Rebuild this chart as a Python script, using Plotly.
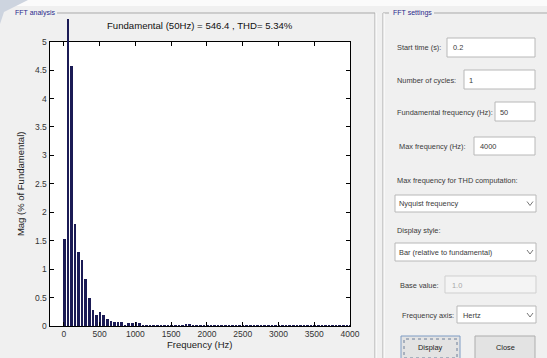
import plotly.graph_objects as go

# ---------------- data ----------------
freq_hz = [0, 50, 100, 150, 200, 250, 300, 350, 400, 450,
           500, 550, 600, 650, 700, 750, 800, 850, 900, 950,
           1000, 1050, 1100, 1150, 1200, 1250, 1300, 1350, 1400, 1450,
           1500, 1550, 1600, 1650, 1700, 1750, 1800, 1850, 1900, 1950,
           2000, 2050, 2100, 2150, 2200, 2250, 2300, 2350, 2400, 2450,
           2500, 2550, 2600, 2650, 2700, 2750, 2800, 2850, 2900, 2950,
           3000, 3050, 3100, 3150, 3200, 3250, 3300, 3350, 3400, 3450,
           3500, 3550, 3600, 3650, 3700, 3750, 3800, 3850, 3900, 3950,
           4000]
mag_pct = [1.53, 100.0, 4.57, 1.80, 1.30, 1.17, 0.83, 0.49, 0.28, 0.20,
           0.26, 0.20, 0.12, 0.09, 0.08, 0.07, 0.07, 0.03, 0.06, 0.06,
           0.08, 0.05, 0.03, 0.03, 0.03, 0.03, 0.03, 0.03, 0.03, 0.02,
           0.02, 0.02, 0.02, 0.02, 0.04, 0.04, 0.02, 0.02, 0.02, 0.02,
           0.02, 0.02, 0.02, 0.02, 0.02, 0.02, 0.02, 0.02, 0.02, 0.02,
           0.02, 0.02, 0.02, 0.02, 0.02, 0.02, 0.02, 0.02, 0.02, 0.02,
           0.02, 0.02, 0.02, 0.02, 0.02, 0.02, 0.02, 0.02, 0.02, 0.02,
           0.02, 0.02, 0.02, 0.02, 0.02, 0.02, 0.02, 0.02, 0.02, 0.02,
           0.02]
fundamental_hz = 50
x_ticks = [0, 500, 1000, 1500, 2000, 2500, 3000, 3500, 4000]
y_ticks = [0, 0.5, 1, 1.5, 2, 2.5, 3, 3.5, 4, 4.5, 5]
title_text = "Fundamental (50Hz) = 546.4 , THD= 5.34%"

# ---------------- layout helpers ----------------
W, H = 547, 358
def px(x):
    return x / W
def py(y):
    return 1 - y / H

FONT = "Liberation Sans, Arial, sans-serif"
BAR = "#1b1b55"
GUI_TXT = "#3a3a3a"
GUI_SIZE = 7.4

harm_x = [f for f in freq_hz if f != fundamental_hz]
harm_y = [m for f, m in zip(freq_hz, mag_pct) if f != fundamental_hz]
fund_x = [f for f in freq_hz if f == fundamental_hz]
fund_y = [m for f, m in zip(freq_hz, mag_pct) if f == fundamental_hz]

plot_l, plot_r, plot_t, plot_b = 49.5, 350, 41.7, 326
fund_top = 19
y2_top = 5 * (plot_b - fund_top) / (plot_b - plot_t)

fig = go.Figure()
fig.add_trace(go.Bar(x=harm_x, y=harm_y, width=36, marker=dict(color=BAR, line=dict(width=0)),
                     xaxis="x", yaxis="y", showlegend=False))
fig.add_trace(go.Bar(x=fund_x, y=fund_y, width=36, marker=dict(color=BAR, line=dict(width=0)),
                     xaxis="x", yaxis="y2", showlegend=False))

shapes = []
annotations = []

# white axes background (data coords of the main axes)
shapes.append(dict(type="rect", xref="x", yref="y", x0=-200, x1=4000, y0=0, y1=5,
                   fillcolor="#ffffff", line=dict(width=0), layer="below"))

# top white strip and corner wedge
shapes.append(dict(type="rect", xref="paper", yref="paper", x0=0, x1=1, y0=py(6), y1=1,
                   fillcolor="#fbfbfb", line=dict(width=0), layer="below"))
shapes.append(dict(type="path", xref="paper", yref="paper",
                   path=f"M 0 1 L {px(28)} 1 L {px(4)} {py(12)} L 0 {py(24)} Z",
                   fillcolor="#cdd4df", line=dict(width=0), layer="below"))

# panel borders (etched)
def hline(x0, x1, y, color="#a9a9a9"):
    shapes.append(dict(type="line", xref="paper", yref="paper", x0=px(x0), x1=px(x1),
                       y0=py(y), y1=py(y), line=dict(color=color, width=1)))
def vline(x, y0, y1, color="#a9a9a9"):
    shapes.append(dict(type="line", xref="paper", yref="paper", x0=px(x), x1=px(x),
                       y0=py(y0), y1=py(y1), line=dict(color=color, width=1)))

hline(57, 375, 13)
vline(375, 13, 358)
vline(376, 13, 358, "#ffffff")
hline(383, 389, 13)
hline(434, 547, 13)
vline(383, 13, 358)
vline(384, 13, 358, "#ffffff")

annotations.append(dict(text="FFT analysis", x=px(13), y=py(13), xref="paper", yref="paper",
                        xanchor="left", yanchor="middle", showarrow=False,
                        font=dict(family=FONT, size=7, color="#2a2a8c")))
annotations.append(dict(text="FFT settings", x=px(391), y=py(13), xref="paper", yref="paper",
                        xanchor="left", yanchor="middle", showarrow=False,
                        font=dict(family=FONT, size=7, color="#2a2a8c")))

# plot title
annotations.append(dict(text=title_text, x=(px(plot_l) + px(plot_r)) / 2, y=py(25.5),
                        xref="paper", yref="paper", xanchor="center", yanchor="middle",
                        showarrow=False, font=dict(family=FONT, size=9.6, color="#111111")))

# settings panel widgets
def label(text, x, y, color=GUI_TXT):
    annotations.append(dict(text=text, x=px(x), y=py(y), xref="paper", yref="paper",
                            xanchor="left", yanchor="middle", showarrow=False,
                            font=dict(family=FONT, size=GUI_SIZE, color=color)))
def box(x0, y0, x1, y1, fill="#ffffff", border="#b8b8b8", dash="solid"):
    shapes.append(dict(type="rect", xref="paper", yref="paper", x0=px(x0), x1=px(x1),
                       y0=py(y1), y1=py(y0), fillcolor=fill,
                       line=dict(color=border, width=1, dash=dash)))
def chevron(cx, cy):
    shapes.append(dict(type="path", xref="paper", yref="paper",
                       path=f"M {px(cx-3)} {py(cy-2)} L {px(cx)} {py(cy+2)} L {px(cx+3)} {py(cy-2)}",
                       line=dict(color="#777777", width=1)))

label("Start time (s):", 395, 48)
box(447, 38, 535, 57)
label("0.2", 451, 48)

label("Number of cycles:", 395, 80)
box(464, 70, 535, 89)
label("1", 467, 80)

label("Fundamental frequency (Hz):", 395, 112)
box(495, 102, 535, 121)
label("50", 498, 112)

label("Max frequency (Hz):", 397, 146)
box(474, 137, 535, 155)
label("4000", 478, 146)

label("Max frequency for THD computation:", 395, 180)
box(395, 195, 536, 212)
label("Nyquist frequency", 397, 203.5)
chevron(530, 203.5)

label("Display style:", 395, 231)
box(395, 243, 536, 261)
label("Bar (relative to fundamental)", 397, 252)
chevron(530, 252)

label("Base value:", 398, 285)
box(445, 276, 536, 293, fill="#f4f4f4", border="#cfcfcf")
label("1.0", 450, 285, "#a8a8a8")

label("Frequency axis:", 400, 315)
box(457, 306, 536, 323)
label("Hertz", 461, 315)
chevron(530, 315)

box(401, 336, 460, 360, fill="#e3e3e3", border="#7f9cc4")
box(404, 339, 457, 358, fill="rgba(0,0,0,0)", border="#6c7f99", dash="dot")
annotations.append(dict(text="Display", x=px(430.5), y=py(347), xref="paper", yref="paper",
                        xanchor="center", yanchor="middle", showarrow=False,
                        font=dict(family=FONT, size=GUI_SIZE, color="#222222")))
box(475, 336, 535, 360, fill="#e3e3e3", border="#adadad")
annotations.append(dict(text="Close", x=px(505), y=py(347), xref="paper", yref="paper",
                        xanchor="center", yanchor="middle", showarrow=False,
                        font=dict(family=FONT, size=GUI_SIZE, color="#222222")))

fig.update_layout(
    width=W, height=H,
    margin=dict(l=0, r=0, t=0, b=0),
    paper_bgcolor="#f0f0f0",
    plot_bgcolor="rgba(0,0,0,0)",
    bargap=0,
    showlegend=False,
    font=dict(family=FONT, size=8, color="#333333"),
    xaxis=dict(domain=[px(plot_l), px(plot_r)], range=[-200, 4000],
               tickvals=x_ticks, ticktext=[str(v) for v in x_ticks],
               ticks="inside", ticklen=4, tickcolor="#000000",
               showline=True, linecolor="#000000", linewidth=1, mirror="ticks",
               showgrid=False, zeroline=False, anchor="y",
               tickfont=dict(family=FONT, size=8.5, color="#333333"),
               title=dict(text="Frequency (Hz)", standoff=3,
                          font=dict(family=FONT, size=9.5, color="#222222")),
               automargin=False),
    yaxis=dict(domain=[py(plot_b), py(plot_t)], range=[0, 5],
               tickvals=y_ticks, ticktext=[("%g" % v) for v in y_ticks],
               ticks="inside", ticklen=4, tickcolor="#000000",
               showline=True, linecolor="#000000", linewidth=1, mirror="ticks",
               showgrid=False, zeroline=False, anchor="x",
               tickfont=dict(family=FONT, size=8.5, color="#333333"),
               title=dict(text="Mag (% of Fundamental)", standoff=8,
                          font=dict(family=FONT, size=9.5, color="#222222")),
               automargin=False),
    yaxis2=dict(domain=[py(plot_b), py(fund_top)], range=[0, y2_top], visible=False,
                anchor="x", fixedrange=True),
    shapes=shapes,
    annotations=annotations,
)

fig.write_html("out.html")
